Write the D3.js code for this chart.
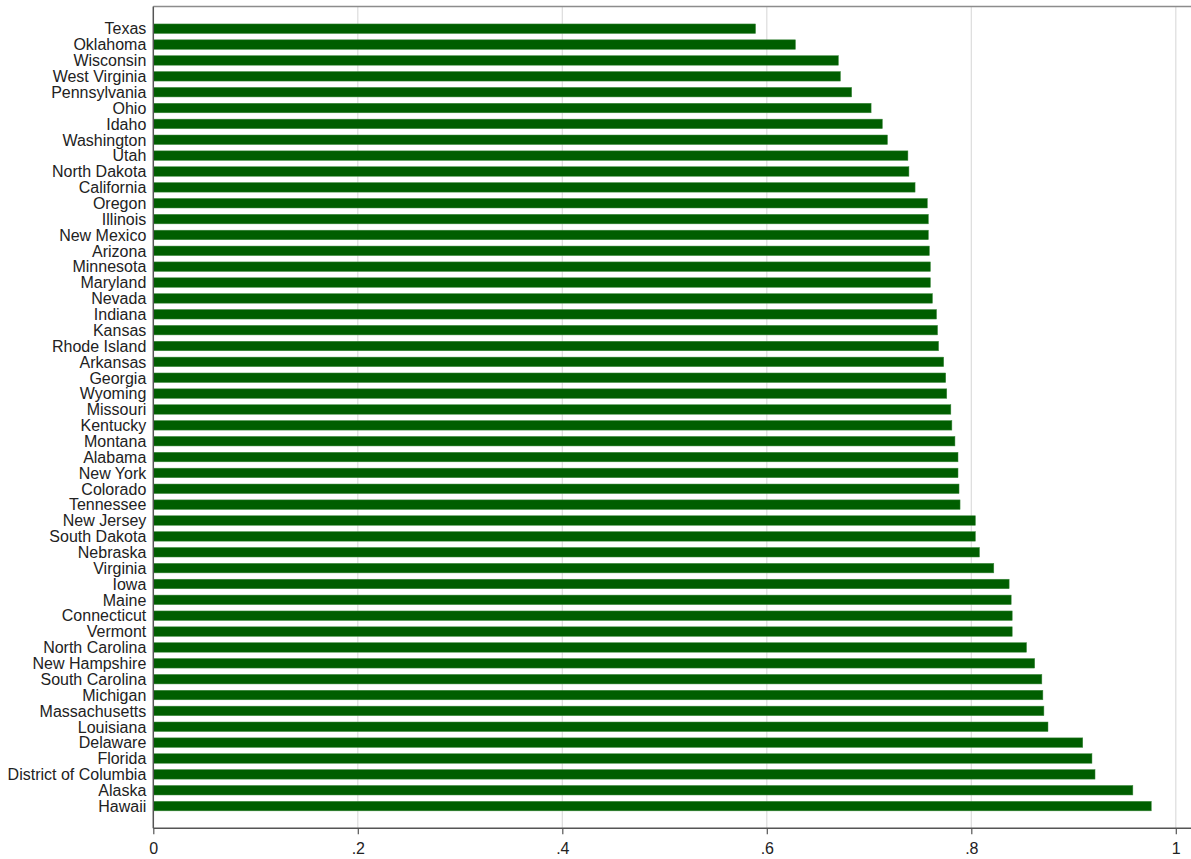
<!DOCTYPE html>
<html>
<head>
<meta charset="utf-8">
<script src="https://cdn.jsdelivr.net/npm/d3@7"></script>
<style>
  body { margin: 0; background: #fff; }
  svg text { font-family: "Liberation Sans", Arial, sans-serif; fill: #222; }
</style>
</head>
<body>
<div id="chart"></div>
<script>
const states = ["Texas", "Oklahoma", "Wisconsin", "West Virginia", "Pennsylvania", "Ohio", "Idaho",
  "Washington", "Utah", "North Dakota", "California", "Oregon", "Illinois", "New Mexico", "Arizona",
  "Minnesota", "Maryland", "Nevada", "Indiana", "Kansas", "Rhode Island", "Arkansas", "Georgia",
  "Wyoming", "Missouri", "Kentucky", "Montana", "Alabama", "New York", "Colorado", "Tennessee",
  "New Jersey", "South Dakota", "Nebraska", "Virginia", "Iowa", "Maine", "Connecticut", "Vermont",
  "North Carolina", "New Hampshire", "South Carolina", "Michigan", "Massachusetts", "Louisiana",
  "Delaware", "Florida", "District of Columbia", "Alaska", "Hawaii"];

const values = [0.589, 0.628, 0.670, 0.672, 0.683, 0.702, 0.713,
  0.718, 0.738, 0.739, 0.745, 0.757, 0.758, 0.758, 0.759,
  0.760, 0.760, 0.762, 0.766, 0.767, 0.768, 0.773, 0.775,
  0.776, 0.780, 0.781, 0.784, 0.787, 0.787, 0.788, 0.789,
  0.804, 0.804, 0.808, 0.822, 0.837, 0.839, 0.840, 0.840,
  0.854, 0.862, 0.869, 0.870, 0.871, 0.875,
  0.909, 0.918, 0.921, 0.958, 0.976];

const xTicks = [0, 0.2, 0.4, 0.6, 0.8, 1];
const xTickLabels = ["0", ".2", ".4", ".6", ".8", "1"];

const data = states.map((s, i) => ({ state: s, value: values[i] }));

const width = 1191, height = 859;
const margin = { top: 6.5, right: 0, bottom: 30.7, left: 153.3 };
const plotBottom = height - margin.bottom;

const svg = d3.select("#chart")
  .append("svg")
  .attr("width", width)
  .attr("height", height);

const x = d3.scaleLinear()
  .domain([0, 1])
  .range([margin.left, 1175.8]);

const y = d3.scaleBand()
  .domain(states)
  .range([margin.top, plotBottom])
  .paddingInner(0.4)
  .paddingOuter(1.1);

// gridlines
svg.append("g")
  .selectAll("line")
  .data(xTicks.slice(1))
  .join("line")
    .attr("x1", d => x(d))
    .attr("x2", d => x(d))
    .attr("y1", margin.top)
    .attr("y2", plotBottom)
    .attr("stroke", "#dcdcdc")
    .attr("stroke-width", 1.2);

// top frame
svg.append("line")
  .attr("x1", margin.left).attr("x2", width)
  .attr("y1", margin.top).attr("y2", margin.top)
  .attr("stroke", "#8c8c8c")
  .attr("stroke-width", 1.5);

// bars
svg.append("g")
  .selectAll("rect")
  .data(data)
  .join("rect")
    .attr("x", x(0))
    .attr("y", d => y(d.state))
    .attr("width", d => x(d.value) - x(0))
    .attr("height", y.bandwidth())
    .attr("fill", "#005e00")
    .attr("stroke", "#3f8a3f")
    .attr("stroke-width", 0.5);

// x axis
const xAxis = svg.append("g")
  .attr("transform", `translate(0,${plotBottom})`)
  .call(d3.axisBottom(x).tickValues(xTicks).tickFormat((d, i) => xTickLabels[i]).tickSize(6).tickSizeOuter(0));
xAxis.select(".domain").remove();
xAxis.append("line")
  .attr("x1", margin.left).attr("x2", width)
  .attr("stroke", "#555").attr("stroke-width", 1.5);
xAxis.selectAll(".tick line").attr("stroke", "#555").attr("stroke-width", 1.2);
xAxis.selectAll(".tick text")
  .attr("y", 14)
  .style("font-size", "16px")
  .style("font-family", "'Liberation Sans', Arial, sans-serif")
  .attr("fill", "#222");

// y axis
const yAxis = svg.append("g")
  .attr("transform", `translate(${margin.left},0)`)
  .call(d3.axisLeft(y).tickSize(0).tickPadding(7));
yAxis.select(".domain").remove();
yAxis.append("line")
  .attr("y1", margin.top).attr("y2", plotBottom)
  .attr("stroke", "#555").attr("stroke-width", 1.5);
yAxis.selectAll(".tick text")
  .attr("dy", "0.36em")
  .style("font-size", "16px")
  .style("font-family", "'Liberation Sans', Arial, sans-serif")
  .attr("fill", "#222");
</script>
</body>
</html>
